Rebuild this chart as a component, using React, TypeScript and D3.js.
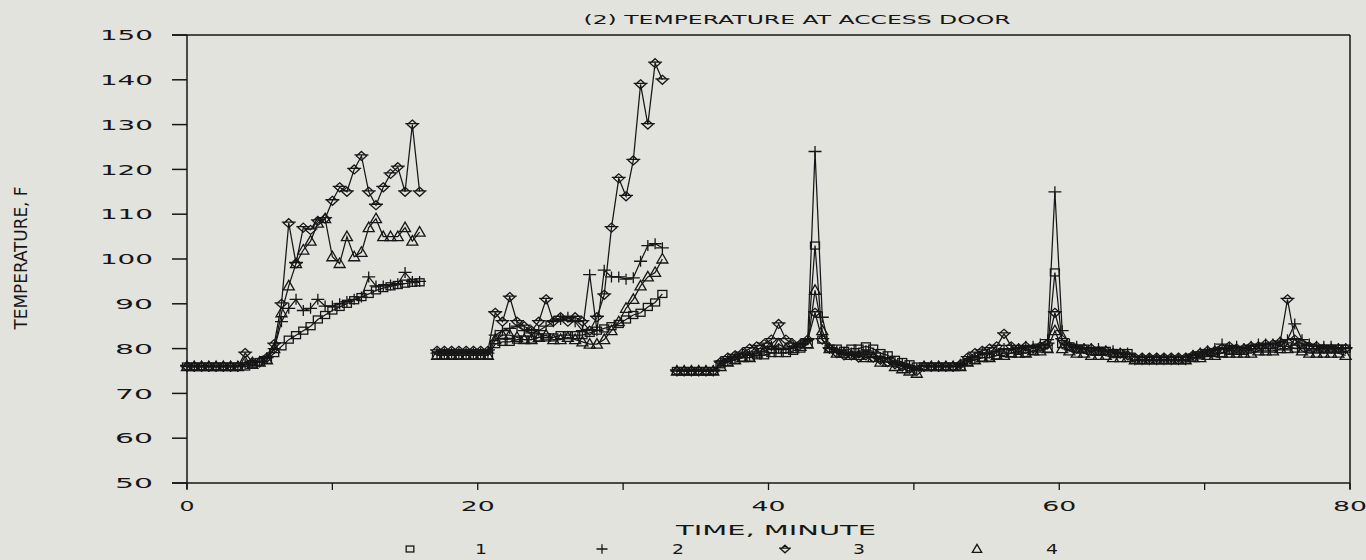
import React from 'react';
import * as d3 from 'd3';

// ---------- DATA ----------
const SEG_A_T = [0, 0.5, 1, 1.5, 2, 2.5, 3, 3.5, 4, 4.5, 5, 5.5, 6, 6.5, 7, 7.5, 8, 8.5, 9, 9.5, 10, 10.5, 11, 11.5, 12, 12.5, 13, 13.5, 14, 14.5, 15, 15.5, 16];
const SEG_A_S1 = [76, 76, 76, 76, 76, 76, 76, 76, 76, 76.5, 77, 77.5, 79, 80.5, 82, 83, 84, 85, 86.5, 87.5, 88.5, 89.3, 90, 90.8, 91.5, 92.2, 93, 93.5, 93.9, 94.2, 94.5, 94.7, 94.8];
const SEG_A_S2 = [76, 76, 76, 76, 76, 76, 76, 76, 76.5, 77, 77, 78, 80, 86, 89, 91, 88.5, 89, 91, 89.5, 89.5, 90, 90.5, 91, 91.5, 96, 94, 94, 94.2, 94.5, 97, 95, 95];
const SEG_A_S3 = [76, 76, 76, 76, 76, 76, 76, 76, 79, 77, 77, 78, 81, 90, 108, 99, 107, 106.5, 108.5, 109, 113, 116, 115, 120, 123, 115, 112, 116, 119, 120.5, 115, 130, 115];
const SEG_A_S4 = [76, 76, 76, 76, 76, 76, 76, 76, 77, 76.5, 77, 77.5, 80, 88, 94, 99, 102, 104, 108, 109, 100.5, 99, 105, 100.5, 101.5, 107, 109, 105, 105, 105, 107, 104, 106];

const SEG_B_T = [17.2, 17.7, 18.2, 18.7, 19.2, 19.7, 20.2, 20.7, 21.2, 21.7, 22.2, 22.7, 23.2, 23.7, 24.2, 24.7, 25.2, 25.7, 26.2, 26.7, 27.2, 27.7, 28.2, 28.7, 29.2, 29.7, 30.2, 30.7, 31.2, 31.7, 32.2, 32.7];
const SEG_B_S1 = [78.5, 78.5, 78.5, 78.5, 78.5, 78.5, 78.5, 78.5, 81, 81.5, 81.5, 82, 82, 82, 82.5, 82.5, 82.5, 83, 83, 83, 83, 83.5, 84, 84.5, 85, 85.5, 86.5, 87.5, 88, 89.3, 90.3, 92.2];
const SEG_B_S2 = [79, 79, 79, 79, 79, 79, 79, 79, 83, 84, 84.5, 85, 84, 83.5, 84, 85, 86, 86.5, 87, 86, 84, 96.5, 84, 97.5, 96, 96, 95.5, 95.8, 99.5, 103, 103.4, 102.5];
const SEG_B_S3 = [79.5, 79.5, 79.5, 79.5, 79.5, 79.5, 79.5, 79.5, 88, 86, 91.5, 86, 85, 84, 86, 91, 86, 87, 86, 87, 86, 84, 87, 92, 107, 118, 114, 122, 139, 130, 143.7, 140];
const SEG_B_S4 = [78.5, 78.5, 78.5, 78.5, 78.5, 78.5, 78.5, 78.5, 82, 83, 83, 82.5, 82, 82, 82.5, 83, 82, 82, 82.5, 82, 81.5, 81, 81, 82, 84, 86, 89, 91, 94, 96, 97, 100];

const SEG_C_T = [33.7, 34.2, 34.7, 35.2, 35.7, 36.2, 36.7, 37.2, 37.7, 38.2, 38.7, 39.2, 39.7, 40.2, 40.7, 41.2, 41.7, 42.2, 42.7, 43.2, 43.7, 44.2, 44.7, 45.2, 45.7, 46.2, 46.7, 47.2, 47.7, 48.2, 48.7, 49.2, 49.7, 50.2];
const SEG_C_S1 = [75, 75, 75, 75, 75, 75, 76.5, 77, 77.5, 78, 78, 78.5, 78.5, 79, 79, 79, 79.5, 80, 81, 103, 82, 80, 80, 79.5, 80, 80, 80.5, 80, 79, 78.5, 77.5, 77, 76.5, 76];
const SEG_C_S2 = [75, 75, 75, 75, 75, 75, 77, 77.5, 78, 79, 78.5, 79, 80, 80.5, 80, 80, 80.5, 81, 82, 124, 87, 80, 79.5, 79, 79, 79, 79.5, 79, 78, 78, 77, 76.5, 76, 75.5];
const SEG_C_S3 = [75, 75, 75, 75, 75, 75, 77, 78, 78.5, 79, 80, 80.5, 81, 82, 85.5, 82, 81, 81, 82, 88, 82, 80, 79, 78.5, 78.5, 78, 78.5, 78, 77.5, 77, 76.5, 76, 75.5, 75];
const SEG_C_S4 = [75, 75, 75, 75, 75, 75, 76, 77, 77.5, 78, 78, 79, 79.5, 80, 81, 80, 80, 80.5, 81, 93, 84, 80, 79, 79, 78.5, 78.5, 78, 78, 77, 77, 76, 75.5, 75, 74.5];

const SEG_D_T = [50.7, 51.2, 51.7, 52.2, 52.7, 53.2, 53.7, 54.2, 54.7, 55.2, 55.7, 56.2, 56.7, 57.2, 57.7, 58.2, 58.7, 59.2, 59.7, 60.2, 60.7, 61.2, 61.7, 62.2, 62.7, 63.2, 63.7, 64.2, 64.7];
const SEG_D_S1 = [76, 76, 76, 76, 76, 76, 77, 77.5, 78, 78, 78.5, 79, 79, 79.5, 79, 79.5, 80, 80, 97, 81, 80.5, 80, 80, 79.5, 79.5, 79.5, 79, 79, 79];
const SEG_D_S2 = [76, 76, 76, 76, 76, 76.5, 77.5, 78, 79, 79, 79.5, 80, 80, 80, 80.5, 80.5, 81, 82, 115, 84, 81, 80.5, 80, 80, 80, 79.5, 79.5, 79, 79];
const SEG_D_S3 = [76, 76, 76, 76, 76, 76.5, 78, 79, 79.5, 80, 80.5, 83.3, 80.5, 80, 80.5, 80, 80.5, 81, 88, 82, 80.5, 80, 80, 80, 79.5, 79.5, 79, 79, 78.5];
const SEG_D_S4 = [76, 76, 76, 76, 76, 76, 77, 77.5, 78, 78, 78.5, 78.5, 79, 79, 79, 79.5, 79.5, 80, 84, 80, 79.5, 79, 79, 78.5, 78.5, 78.5, 78, 78, 78];

const SEG_E_T = [65.2, 65.7, 66.2, 66.7, 67.2, 67.7, 68.2, 68.7, 69.2, 69.7, 70.2, 70.7, 71.2, 71.7, 72.2, 72.7, 73.2, 73.7, 74.2, 74.7, 75.2, 75.7, 76.2, 76.7, 77.2, 77.7, 78.2, 78.7, 79.2, 79.7];
const SEG_E_S1 = [77.5, 77.5, 77.5, 77.5, 77.5, 77.5, 77.5, 77.5, 78, 78.5, 79, 79, 79, 79.5, 79.5, 79.5, 80, 80, 80, 80, 80.5, 80.5, 80, 80, 80, 80, 80, 80, 80, 80];
const SEG_E_S2 = [77.5, 77.5, 77.5, 77.5, 77.5, 77.5, 77.5, 77.5, 78.5, 79, 79.5, 80, 81, 80, 80.5, 80, 80.5, 81, 81, 81, 81.5, 82, 85.5, 82, 81, 80.5, 80.5, 80.5, 80, 80];
const SEG_E_S3 = [78, 78, 78, 78, 78, 78, 78, 78, 78.5, 79, 79.5, 79.5, 80, 80.5, 80, 80, 80.5, 80.5, 81, 81, 81.5, 91, 82, 81, 80.5, 80.5, 80, 80, 80, 80];
const SEG_E_S4 = [77.5, 77.5, 77.5, 77.5, 77.5, 77.5, 77.5, 77.5, 78, 78, 78.5, 78.5, 79, 79, 79, 79, 79, 79.5, 79.5, 79.5, 80, 80, 81, 79.5, 79, 79, 79, 79, 79, 78.5];

const SERIES_NAMES = ['1', '2', '3', '4'];
const Y_TICKS = [50, 60, 70, 80, 90, 100, 110, 120, 130, 140, 150];
const X_TICKS = [0, 10, 20, 30, 40, 50, 60, 70, 80];
const X_LABELS = [0, 20, 40, 60, 80];
const TITLE = '(2) TEMPERATURE AT ACCESS DOOR';
const X_TITLE = 'TIME, MINUTE';
const Y_TITLE = 'TEMPERATURE, F';

const SEGMENTS = [
  { t: SEG_A_T, s: [SEG_A_S1, SEG_A_S2, SEG_A_S3, SEG_A_S4] },
  { t: SEG_B_T, s: [SEG_B_S1, SEG_B_S2, SEG_B_S3, SEG_B_S4] },
  { t: SEG_C_T, s: [SEG_C_S1, SEG_C_S2, SEG_C_S3, SEG_C_S4] },
  { t: SEG_D_T, s: [SEG_D_S1, SEG_D_S2, SEG_D_S3, SEG_D_S4] },
  { t: SEG_E_T, s: [SEG_E_S1, SEG_E_S2, SEG_E_S3, SEG_E_S4] },
];

// ---------- LAYOUT ----------
const W = 1366;
const H = 560;
const L = 187, R = 1350, T = 35, B = 483;
const INK = '#161616';
const BG = '#e3e3dd';
const FONT = "'DejaVu Sans', sans-serif";

const x = d3.scaleLinear().domain([0, 80]).range([L, R]);
const y = d3.scaleLinear().domain([50, 150]).range([B, T]);

function Marker({ kind, cx, cy, s = 1 }: { kind: number; cx: number; cy: number; s?: number }) {
  const common = { fill: 'none', stroke: INK, strokeWidth: 1.3 };
  if (kind === 0) {
    return <rect x={cx - 4.5 * s} y={cy - 3.5 * s} width={9 * s} height={7 * s} {...common} />;
  }
  if (kind === 1) {
    return <path d={`M${cx - 6.5 * s},${cy}H${cx + 6.5 * s}M${cx},${cy - 5.5 * s}V${cy + 5.5 * s}`} {...common} />;
  }
  if (kind === 2) {
    return (
      <path
        d={`M${cx},${cy - 4.5 * s}L${cx + 5 * s},${cy}L${cx},${cy + 4.5 * s}L${cx - 5 * s},${cy}ZM${cx - 7 * s},${cy - 1 * s}H${cx + 7 * s}`}
        {...common}
      />
    );
  }
  return <path d={`M${cx},${cy - 5.5 * s}L${cx + 5.5 * s},${cy + 4 * s}L${cx - 5.5 * s},${cy + 4 * s}Z`} {...common} />;
}

function SpacedText({ text, cx, cy, perChar, size, anchor = 'middle', total }: { text: string; cx: number; cy: number; perChar?: number; size: number; anchor?: string; total?: number }) {
  const len = total ?? text.length * (perChar ?? 10);
  let x0 = cx - len / 2;
  if (anchor === 'end') x0 = cx - len;
  if (anchor === 'start') x0 = cx;
  return (
    <text
      x={x0}
      y={cy + size * 0.36}
      fontFamily={FONT}
      fontSize={size}
      fill={INK}
      textLength={len}
      lengthAdjust="spacingAndGlyphs"
    >
      {text}
    </text>
  );
}

export default function App() {
  const line = d3
    .line<[number, number]>()
    .x((d) => x(d[0]))
    .y((d) => y(d[1]));

  const legendItems = [
    { sym: 410, num: 481 },
    { sym: 602, num: 678 },
    { sym: 785, num: 859 },
    { sym: 977, num: 1052 },
  ];

  return (
    <svg width={W} height={H} style={{ position: 'absolute', left: 0, top: 0, background: BG }}>
      <rect x={0} y={0} width={W} height={H} fill={BG} />
      {/* frame */}
      <line x1={L - 15} x2={R} y1={T} y2={T} stroke={INK} strokeWidth={1.5} />
      <line x1={L - 15} x2={R} y1={B} y2={B} stroke={INK} strokeWidth={1.5} />
      <line x1={L} x2={L} y1={T} y2={B + 6} stroke={INK} strokeWidth={1.5} />
      <line x1={R} x2={R} y1={T} y2={B + 6} stroke={INK} strokeWidth={1.5} />
      {Y_TICKS.map((v) => (
        <g key={'yt' + v}>
          <line x1={L - 15} x2={L} y1={y(v)} y2={y(v)} stroke={INK} strokeWidth={1.5} />
          <SpacedText text={String(v)} cx={153} cy={y(v)} perChar={v >= 100 ? 17.7 : 19} size={14.5} anchor="end" />
        </g>
      ))}
      {X_TICKS.map((v) => (
        <line key={'xt' + v} x1={x(v)} x2={x(v)} y1={B} y2={B + 7} stroke={INK} strokeWidth={1.3} />
      ))}
      {X_LABELS.map((v) => (
        <SpacedText key={'xl' + v} text={String(v)} cx={x(v)} cy={506} perChar={v === 0 ? 15 : 17} size={14.5} />
      ))}

      {/* series */}
      {SEGMENTS.map((seg, si) =>
        seg.s.map((vals, k) => {
          const pts: [number, number][] = seg.t.map((t, i) => [t, vals[i]]);
          return (
            <g key={`s${si}-${k}`}>
              <path d={line(pts) ?? ''} fill="none" stroke={INK} strokeWidth={1.25} />
              {pts.map((p, i) => (
                <Marker key={i} kind={k} cx={x(p[0])} cy={y(p[1])} />
              ))}
            </g>
          );
        })
      )}

      {/* titles */}
      <SpacedText text={TITLE} cx={797} cy={19} total={427} size={13} />
      <SpacedText text={X_TITLE} cx={776} cy={530} total={200} size={14} />
      <g transform={`translate(21,258) rotate(-90)`}>
        <text
          x={-71.5}
          y={6}
          fontFamily="'Liberation Sans Narrow', 'DejaVu Sans Condensed', sans-serif"
          fontSize={17}
          fill={INK}
          textLength={143}
          lengthAdjust="spacingAndGlyphs"
        >
          {Y_TITLE}
        </text>
      </g>

      {/* legend */}
      {legendItems.map((it, i) => (
        <g key={'lg' + i}>
          <Marker kind={i} cx={it.sym} cy={549} s={0.85} />
          <SpacedText text={SERIES_NAMES[i]} cx={it.num} cy={549} perChar={12} size={14} />
        </g>
      ))}
    </svg>
  );
}
